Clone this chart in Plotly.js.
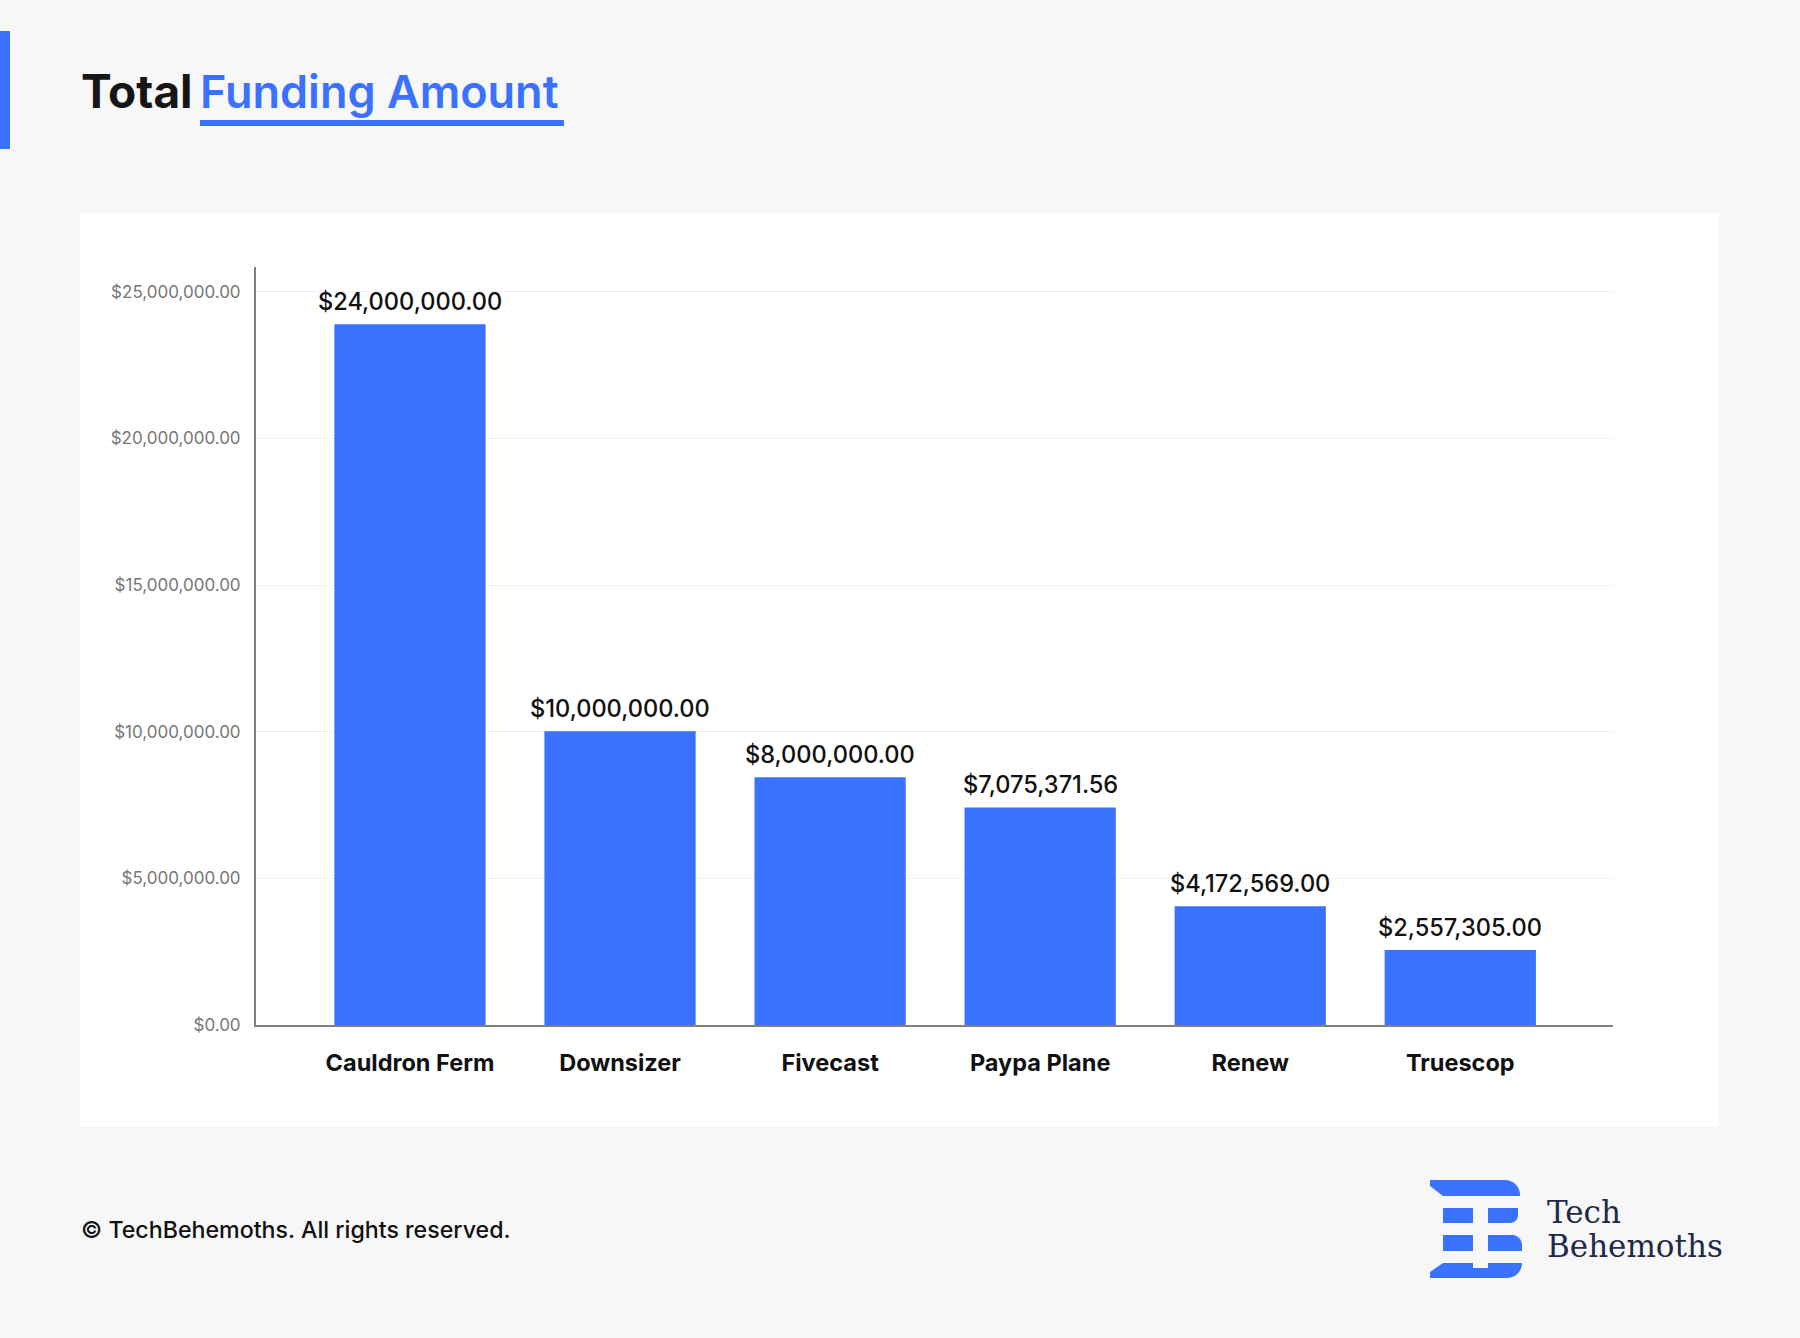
<!DOCTYPE html>
<html>
<head>
<meta charset="utf-8">
<script src="https://cdn.plot.ly/plotly-3.0.1.min.js"></script>
<style>
  html, body { margin: 0; padding: 0; background: #f7f7f7; }
  #chart { width: 1800px; height: 1338px; }
</style>
</head>
<body>
<div id="chart"></div>
<script>
// ---- data ----
const companies = ["Cauldron Ferm", "Downsizer", "Fivecast", "Paypa Plane", "Renew", "Truescop"];
const barValues = [23900000, 10020000, 8450000, 7420000, 4050000, 2560000];
const valueLabels = ["$24,000,000.00", "$10,000,000.00", "$8,000,000.00", "$7,075,371.56", "$4,172,569.00", "$2,557,305.00"];
const yTickValues = [0, 5000000, 10000000, 15000000, 20000000, 25000000];

// ---- helpers (pixel -> paper) ----
const W = 1800, H = 1338;
const px = x => x / W;
const py = y => 1 - y / H;

const BLUE = "#3A72FF";
const BG = "#f7f7f7";
const FONT = "Inter, 'Noto Sans', sans-serif";

const trace = {
  type: "bar",
  x: companies,
  y: barValues,
  marker: { color: BLUE, line: { width: 0 } },
  hoverinfo: "skip",
  cliponaxis: false
};

const annotations = [];
// value labels above bars
companies.forEach((c, i) => {
  annotations.push({
    xref: "x", yref: "y", x: c, y: barValues[i],
    text: valueLabels[i], showarrow: false,
    xanchor: "center", yanchor: "bottom", yshift: 6,
    font: { family: FONT, size: 23.6, color: "#111111", weight: 500 }
  });
});
// title
annotations.push({
  xref: "paper", yref: "paper", x: px(79), y: py(91),
  xanchor: "left", yanchor: "middle", showarrow: false,
  text: "Total",
  font: { family: FONT, size: 46, color: "#161616", weight: 700 }
});
annotations.push({
  xref: "paper", yref: "paper", x: px(198), y: py(91),
  xanchor: "left", yanchor: "middle", showarrow: false,
  text: "Funding Amount",
  font: { family: FONT, size: 45, color: BLUE, weight: 600 }
});
// footer
annotations.push({
  xref: "paper", yref: "paper", x: px(79), y: py(1230),
  xanchor: "left", yanchor: "middle", showarrow: false,
  text: "© TechBehemoths. All rights reserved.",
  font: { family: FONT, size: 23.2, color: "#111111", weight: 500 }
});
// logo text
annotations.push({
  xref: "paper", yref: "paper", x: px(1545), y: py(1212),
  xanchor: "left", yanchor: "middle", showarrow: false,
  text: "Tech",
  font: { family: "'DejaVu Serif', serif", size: 31, color: "#1E2A47" }
});
annotations.push({
  xref: "paper", yref: "paper", x: px(1545), y: py(1246),
  xanchor: "left", yanchor: "middle", showarrow: false,
  text: "Behemoths",
  font: { family: "'DejaVu Serif', serif", size: 31, color: "#1E2A47" }
});

function rectPx(x0, y0, x1, y1, color, layer) {
  return { type: "rect", xref: "paper", yref: "paper",
    x0: px(x0), x1: px(x1), y0: py(y0), y1: py(y1),
    fillcolor: color, line: { width: 0 }, layer: layer || "below" };
}
function pathPx(points, color) {
  let d = points.map((p, i) => (i ? "L" : "M") + px(p[0]).toFixed(5) + "," + py(p[1]).toFixed(5)).join(" ") + " Z";
  return { type: "path", xref: "paper", yref: "paper", path: d, fillcolor: color, line: { width: 0 }, layer: "above" };
}
function arc(cx, cy, r, a0, a1, n) {
  const pts = [];
  for (let k = 0; k <= n; k++) {
    const a = a0 + (a1 - a0) * k / n;
    pts.push([cx + r * Math.cos(a), cy + r * Math.sin(a)]);
  }
  return pts;
}
function bandPx(x0, y0, x1, y1, rTop, rBot, color) {
  // band with rounded right corners
  let pts = [[x0, y0]];
  pts = pts.concat(rTop > 0 ? arc(x1 - rTop, y0 + rTop, rTop, -Math.PI / 2, 0, 10) : [[x1, y0]]);
  pts = pts.concat(rBot > 0 ? arc(x1 - rBot, y1 - rBot, rBot, 0, Math.PI / 2, 10) : [[x1, y1]]);
  pts.push([x0, y1]);
  return pathPx(pts, color);
}

const shapes = [
  // white panel
  rectPx(80, 213, 1719, 1127, "#ffffff", "below"),
  // left accent bar
  rectPx(0, 31, 10, 149, BLUE, "above"),
  // title underline
  { type: "rect", xref: "paper", yref: "paper", x0: px(200), x1: px(564), y0: py(126), y1: py(120),
    fillcolor: BLUE, line: { width: 0 }, layer: "above" },
  // logo mark
  bandPx(1430, 1180, 1520, 1196, 15, 0, BLUE),
  pathPx([[1430, 1186], [1443, 1196], [1430, 1196]].concat([]), BG),
  bandPx(1443, 1208, 1473, 1223, 0, 0, BLUE),
  bandPx(1488, 1208, 1518, 1223, 0, 8, BLUE),
  bandPx(1443, 1235, 1473, 1251, 0, 0, BLUE),
  bandPx(1488, 1235, 1522, 1251, 10, 0, BLUE),
  bandPx(1430, 1263, 1522, 1278, 0, 15, BLUE),
  pathPx([[1430, 1263], [1443, 1263], [1430, 1272]], BG),
  rectPx(1473, 1262, 1488, 1268, BG, "above")
];

const layout = {
  width: W, height: H,
  margin: { l: 0, r: 0, t: 0, b: 0, autoexpand: false },
  paper_bgcolor: BG,
  plot_bgcolor: "rgba(0,0,0,0)",
  showlegend: false,
  bargap: 0.28,
  xaxis: {
    domain: [px(256), px(1613)],
    type: "category",
    range: [-0.733, 5.727],
    showline: true, linecolor: "#808080", linewidth: 2,
    showgrid: false, zeroline: false,
    ticks: "outside", ticklen: 16, tickcolor: "rgba(0,0,0,0)",
    tickfont: { family: FONT, size: 23.5, color: "#111111", weight: 700 },
    fixedrange: true
  },
  yaxis: {
    domain: [py(1025), py(267)],
    range: [0, 25850000],
    tickvals: yTickValues,
    tickformat: "$,.2f",
    showline: true, linecolor: "#808080", linewidth: 2,
    showgrid: true, gridcolor: "#f1f1f1", gridwidth: 1,
    zeroline: false,
    ticks: "outside", ticklen: 10, tickcolor: "rgba(0,0,0,0)",
    tickfont: { family: FONT, size: 17, color: "#777777" },
    fixedrange: true
  },
  shapes: shapes,
  annotations: annotations
};

Plotly.newPlot("chart", [trace], layout, { displayModeBar: false, staticPlot: true });
</script>
</body>
</html>
